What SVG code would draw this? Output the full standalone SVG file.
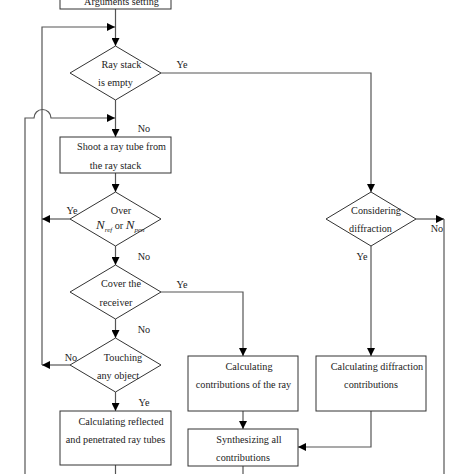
<svg xmlns="http://www.w3.org/2000/svg" width="474" height="474" viewBox="0 0 474 474">
<defs>
<marker id="ah" viewBox="0 0 10 10" refX="10" refY="5" markerWidth="8" markerHeight="8" markerUnits="userSpaceOnUse" orient="auto">
<path d="M0,0 L10,5 L0,10 z" fill="#000"/>
</marker>
</defs>
<style>
.n{fill:#fff;stroke:#333;stroke-width:1}
.c{fill:none;stroke:#555;stroke-width:1.2}
.a{marker-end:url(#ah)}
text{font-family:"Liberation Serif","Times New Roman",serif;font-size:10.2px;fill:#222}
.m{text-anchor:middle}
</style>
<rect width="474" height="474" fill="#fff"/>
<g id="connectors">
<path class="c a" d="M115.5,9 V46"/>
<path class="c a" d="M42,365 V27 H115"/>
<path class="c a" d="M161,73 H371 V192"/>
<path class="c a" d="M115.5,100 V137"/>
<path class="c a" d="M25,474 V118 H34 A8.5,8.5 0 0 1 51,118 H115"/>
<path class="c a" d="M115.5,173 V192"/>
<path class="c a" d="M70,219 H42"/>
<path class="c a" d="M115.5,246 V265"/>
<path class="c a" d="M161,292 H243 V356"/>
<path class="c a" d="M115.5,319 V338"/>
<path class="c a" d="M70,365 H42"/>
<path class="c a" d="M115.5,392 V411"/>
<path class="c" d="M115.5,465 V474"/>
<path class="c a" d="M243,411 V429"/>
<path class="c" d="M243,466 V474"/>
<path class="c a" d="M416,219 H444"/>
<path class="c" d="M444,219 V474"/>
<path class="c a" d="M371,246 V356"/>
<path class="c a" d="M371,411 V447 H298"/>
</g>
<g id="labels">
<text x="182" y="68" class="m">Ye</text>
<text x="144" y="132" class="m">No</text>
<text x="72" y="214" class="m">Ye</text>
<text x="144" y="260" class="m">No</text>
<text x="182" y="288" class="m">Ye</text>
<text x="144" y="333" class="m">No</text>
<text x="71" y="361" class="m">No</text>
<text x="144" y="406" class="m">Ye</text>
<text x="437" y="232" class="m">No</text>
<text x="362" y="260" class="m">Ye</text>
</g>
<g id="args">
<rect class="n" x="60" y="-20" width="111" height="29"/>
<text x="121.5" y="5" class="m">Arguments setting</text>
</g>
<g id="raystack">
<polygon class="n" points="115.5,46 161,73 115.5,100 70,73"/>
<text x="121.5" y="68" class="m">Ray stack</text>
<text x="115.5" y="86" class="m">is empty</text>
</g>
<g id="shoot">
<rect class="n" x="60" y="137" width="111" height="36"/>
<text x="121.5" y="150" class="m">Shoot a ray tube from</text>
<text x="115.5" y="169" class="m">the ray stack</text>
</g>
<g id="over">
<polygon class="n" points="115.5,192 161,219 115.5,246 70,219"/>
<text x="121" y="214" class="m">Over</text>
<text x="96" y="229"><tspan font-style="italic" font-size="13">N</tspan><tspan font-style="italic" font-size="7" dy="3">ref</tspan><tspan dy="-3"> or </tspan><tspan font-style="italic" font-size="13">N</tspan><tspan font-style="italic" font-size="7" dy="3">pen</tspan></text>
</g>
<g id="cover">
<polygon class="n" points="115.5,265 161,292 115.5,319 70,292"/>
<text x="121" y="287" class="m">Cover the</text>
<text x="116" y="306" class="m">receiver</text>
</g>
<g id="touching">
<polygon class="n" points="115.5,338 161,365 115.5,392 70,365"/>
<text x="123" y="361" class="m">Touching</text>
<text x="118" y="379" class="m">any object</text>
</g>
<g id="reflected">
<rect class="n" x="60" y="411" width="111" height="54"/>
<text x="121" y="425" class="m">Calculating reflected</text>
<text x="115.5" y="443" class="m">and penetrated ray tubes</text>
</g>
<g id="contrib">
<rect class="n" x="188" y="356" width="110" height="55"/>
<text x="249" y="370" class="m">Calculating</text>
<text x="243.5" y="388" class="m">contributions of the ray</text>
</g>
<g id="synth">
<rect class="n" x="188" y="429" width="110" height="37"/>
<text x="249" y="443" class="m">Synthesizing all</text>
<text x="243" y="461" class="m">contributions</text>
</g>
<g id="considering">
<polygon class="n" points="371,192 416,219 371,246 326,219"/>
<text x="376" y="214" class="m">Considering</text>
<text x="370.5" y="232" class="m">diffraction</text>
</g>
<g id="diffraction">
<rect class="n" x="316" y="356" width="110" height="55"/>
<text x="377" y="370" class="m">Calculating diffraction</text>
<text x="371" y="388" class="m">contributions</text>
</g>
</svg>
